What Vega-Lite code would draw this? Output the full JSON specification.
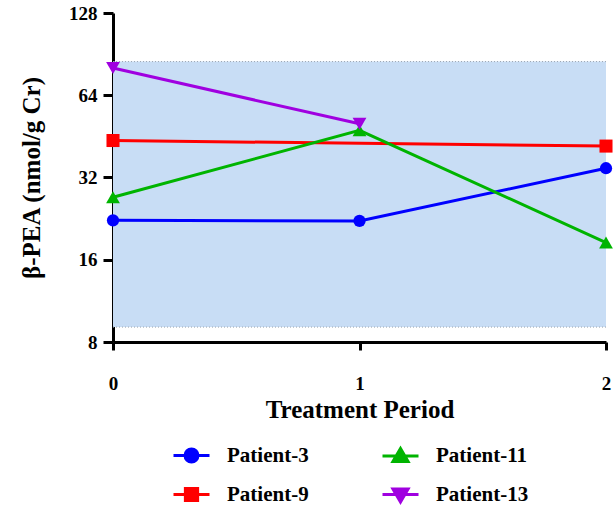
{
  "$schema": "https://vega.github.io/schema/vega-lite/v6.json",
  "width": 493,
  "height": 329,
  "autosize": {"type": "none"},
  "padding": {"left": 113, "top": 13, "right": 9, "bottom": 165},
  "background": "white",
  "config": {
    "view": {"stroke": null},
    "font": "Liberation Serif",
    "axis": {
      "grid": false,
      "domainColor": "black",
      "domainWidth": 3,
      "tickColor": "black",
      "tickWidth": 3,
      "labelFont": "Liberation Serif",
      "labelFontWeight": "bold",
      "labelFontSize": 19,
      "labelColor": "black",
      "labelFlush": false,
      "labelOverlap": false,
      "titleFont": "Liberation Serif",
      "titleFontWeight": "bold",
      "titleFontSize": 25,
      "titleColor": "black"
    }
  },
  "datasets": {
    "band": [{"lo": 9.07, "hi": 85}],
    "obs": [
      {"patient": "Patient-3", "period": 0, "value": 22.3},
      {"patient": "Patient-3", "period": 1, "value": 22.2},
      {"patient": "Patient-3", "period": 2, "value": 34.6},
      {"patient": "Patient-9", "period": 0, "value": 43.7},
      {"patient": "Patient-9", "period": 2, "value": 41.7},
      {"patient": "Patient-11", "period": 0, "value": 27.1},
      {"patient": "Patient-11", "period": 1, "value": 47.6},
      {"patient": "Patient-11", "period": 2, "value": 18.5},
      {"patient": "Patient-13", "period": 0, "value": 80.5},
      {"patient": "Patient-13", "period": 1, "value": 50.3}
    ]
  },
  "layer": [
    {
      "data": {"name": "band"},
      "mark": {"type": "rect", "color": "#c8ddf5", "opacity": 1},
      "encoding": {
        "x": {
          "datum": 0, "type": "quantitative",
          "scale": {"domain": [0, 2], "nice": false, "zero": false},
          "axis": {"tickCount": 2, "format": "d", "title": "Treatment Period", "tickSize": 8, "labelPadding": 24, "titlePadding": 4}
        },
        "x2": {"datum": 2},
        "y": {
          "field": "lo", "type": "quantitative",
          "scale": {"type": "log", "base": 2, "domain": [8, 128], "nice": false},
          "axis": {"values": [8, 16, 32, 64, 128], "format": "d", "title": "β-PEA (nmol/g Cr)", "tickSize": 10, "labelPadding": 6, "titlePadding": 24}
        },
        "y2": {"field": "hi"}
      }
    },
    {
      "data": {"name": "band"},
      "mark": {"type": "rule", "color": "#9aa4b0", "strokeWidth": 1, "strokeDash": [1, 2]},
      "encoding": {"y": {"field": "hi", "type": "quantitative"}}
    },
    {
      "data": {"name": "band"},
      "mark": {"type": "rule", "color": "#9aa4b0", "strokeWidth": 1, "strokeDash": [1, 2]},
      "encoding": {"y": {"field": "lo", "type": "quantitative"}}
    },
    {
      "data": {"name": "obs"},
      "mark": {"type": "line", "strokeWidth": 3},
      "encoding": {
        "x": {"field": "period", "type": "quantitative"},
        "y": {"field": "value", "type": "quantitative"},
        "color": {
          "field": "patient", "type": "nominal",
          "scale": {"domain": ["Patient-3", "Patient-11", "Patient-9", "Patient-13"], "range": ["#0000ff", "#00b400", "#ff0000", "#a000e0"]},
          "legend": {
            "title": null,
            "orient": "none",
            "legendX": 59,
            "legendY": 423,
            "columns": 2,
            "direction": "horizontal",
            "symbolSize": 1296,
            "symbolStrokeWidth": 3,
            "labelFont": "Liberation Serif",
            "labelFontWeight": "bold",
            "labelFontSize": 21,
            "labelColor": "black",
            "labelOffset": 16,
            "columnPadding": 67,
            "rowPadding": 7,
            "encode": {
              "symbols": {
                "update": {
                  "shape": {"signal": "datum.value === 'Patient-3' ? 'M-1,0H1M-0.36,0A0.36,0.36 0 1,0 0.36,0A0.36,0.36 0 1,0 -0.36,0Z' : datum.value === 'Patient-9' ? 'M-1,0H1M-0.34,-0.34H0.34V0.34H-0.34Z' : datum.value === 'Patient-11' ? 'M-1,0H1M0,-0.42L0.42,0.3H-0.42Z' : 'M-1,0H1M0,0.42L0.42,-0.3H-0.42Z'"},
                  "fill": {"scale": "color", "field": "value"},
                  "strokeWidth": {"value": 3},
                  "opacity": {"value": 1}
                }
              }
            }
          }
        },
        "detail": {"field": "patient"}
      }
    },
    {
      "data": {"name": "obs"},
      "transform": [{"filter": {"field": "patient", "equal": "Patient-3"}}],
      "mark": {"type": "point", "filled": true, "opacity": 1, "size": 150, "shape": "circle", "color": "#0000ff"},
      "encoding": {"x": {"field": "period", "type": "quantitative"}, "y": {"field": "value", "type": "quantitative"}}
    },
    {
      "data": {"name": "obs"},
      "transform": [{"filter": {"field": "patient", "equal": "Patient-9"}}],
      "mark": {"type": "point", "filled": true, "opacity": 1, "size": 170, "shape": "square", "color": "#ff0000"},
      "encoding": {"x": {"field": "period", "type": "quantitative"}, "y": {"field": "value", "type": "quantitative"}}
    },
    {
      "data": {"name": "obs"},
      "transform": [{"filter": {"field": "patient", "equal": "Patient-11"}}],
      "mark": {"type": "point", "filled": true, "opacity": 1, "size": 190, "shape": "triangle-up", "color": "#00b400"},
      "encoding": {"x": {"field": "period", "type": "quantitative"}, "y": {"field": "value", "type": "quantitative"}}
    },
    {
      "data": {"name": "obs"},
      "transform": [{"filter": {"field": "patient", "equal": "Patient-13"}}],
      "mark": {"type": "point", "filled": true, "opacity": 1, "size": 190, "shape": "triangle-down", "color": "#a000e0"},
      "encoding": {"x": {"field": "period", "type": "quantitative"}, "y": {"field": "value", "type": "quantitative"}}
    }
  ]
}
